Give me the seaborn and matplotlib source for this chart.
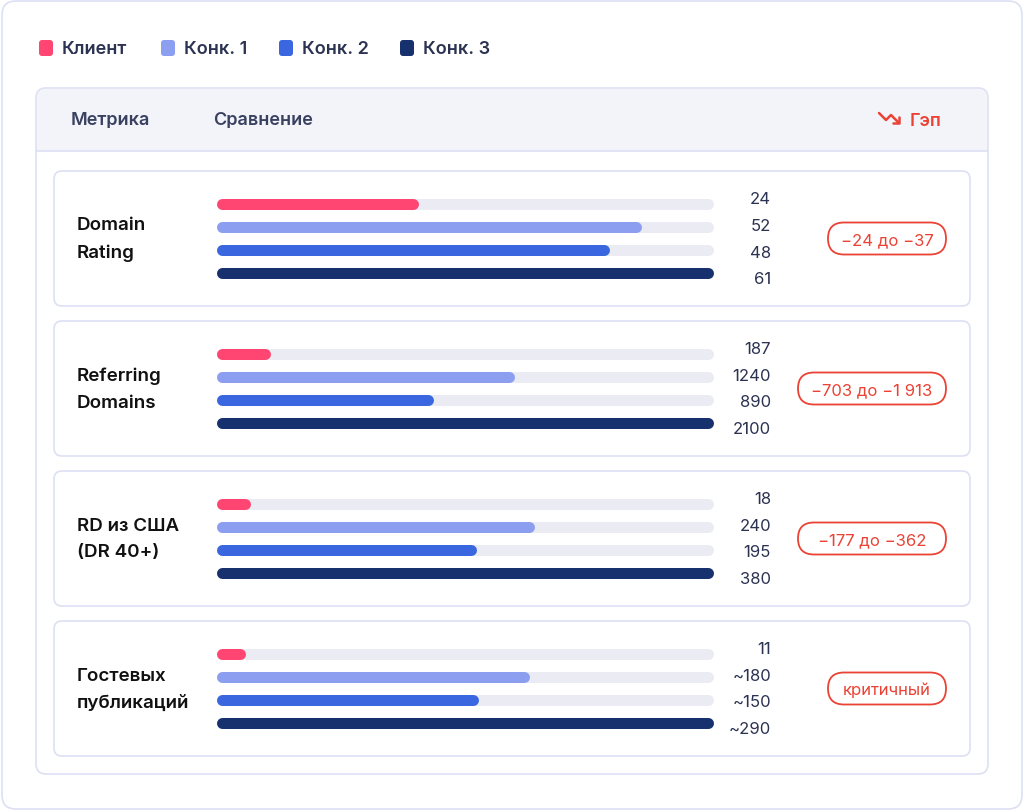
import matplotlib.pyplot as plt
import seaborn as sns
from matplotlib.patches import FancyBboxPatch

sns.set_theme(style="white")
plt.rcParams['font.family'] = ['Inter', 'DejaVu Sans']

# Data
series = ['Клиент', 'Конк. 1', 'Конк. 2', 'Конк. 3']
colors = ['#ff4673', '#8c9ef0', '#3a67e0', '#17306e']
metrics = ['Domain\nRating', 'Referring\nDomains', 'RD из США\n(DR 40+)', 'Гостевых\nпубликаций']
values = [
    [24, 52, 48, 61],
    [187, 1240, 890, 2100],
    [18, 240, 195, 380],
    [11, 180, 150, 290],
]
value_labels = [
    ['24', '52', '48', '61'],
    ['187', '1240', '890', '2100'],
    ['18', '240', '195', '380'],
    ['11', '~180', '~150', '~290'],
]
gaps = ['−24 до −37', '−703 до −1 913', '−177 до −362', 'критичный']

W, H = 1024, 812
fig = plt.figure(figsize=(W / 100, H / 100), dpi=100)
fig.patch.set_facecolor('white')
bg = fig.add_axes([0, 0, 1, 1])
bg.set_xlim(0, W)
bg.set_ylim(H, 0)
bg.axis('off')

border = '#dde0f3'
dark = '#2b3252'

def rbox(x0, y0, x1, y1, r, fc, ec, lw=1.2, z=1):
    bg.add_patch(FancyBboxPatch((x0 + r, y0 + r), x1 - x0 - 2 * r, y1 - y0 - 2 * r,
                                boxstyle=f"round,pad={r}", fc=fc, ec=ec, lw=lw, zorder=z))

# outer card
rbox(2, 2, 1022, 810, 14, 'white', border)

# legend
for name, c, xs in zip(series, colors, [36, 158, 276, 397]):
    rbox(xs + 3, 41, xs + 17, 57, 3, c, c, lw=0, z=3)
    bg.text(xs + 26, 50, name, ha='left', va='center', fontsize=13, fontweight='semibold', color=dark)

# table frame and header
rbox(36, 89, 988, 775, 10, 'white', border)
bg.add_patch(FancyBboxPatch((37, 90), 950, 62, boxstyle="round,pad=0,rounding_size=9",
                            fc='#f2f4fa', ec='none', zorder=1.5))
bg.add_patch(plt.Rectangle((37, 130), 950, 22, fc='#f2f4fa', ec='none', zorder=1.5))
bg.plot([37, 987], [152, 152], color=border, lw=1.2, zorder=2)
bg.text(71, 121, 'Метрика', ha='left', va='center', fontsize=13, fontweight='semibold', color='#3a4060')
bg.text(213, 121, 'Сравнение', ha='left', va='center', fontsize=13, fontweight='semibold', color='#3a4060')
red = '#ea4335'
bg.text(910, 121, 'Гэп', ha='left', va='center', fontsize=13, fontweight='semibold', color=red)
bg.plot([879, 886, 891, 899], [114, 121, 116, 124], color=red, lw=1.8, solid_capstyle='round',
        solid_joinstyle='round', zorder=3)
bg.plot([893, 899, 899], [124, 124, 118], color=red, lw=1.8, solid_capstyle='round', zorder=3)

# panels
panel_tops = [172, 322, 472, 622]
for i, top in enumerate(panel_tops):
    bottom = top + 135
    rbox(54, top, 970, bottom, 8, 'white', border, z=2)
    mid = (top + bottom) / 2
    bg.text(77, mid, metrics[i], ha='left', va='center', fontsize=13.5, fontweight='semibold',
            color='#111111', linespacing=1.75, zorder=3)
    # pill
    txt = gaps[i]
    pw = 118 if len(txt) < 12 else 148
    px = 946 - pw
    rbox(px, mid - 16, 946, mid + 16, 16, 'white', red, lw=1.3, z=3)
    bg.text(px + pw / 2, mid + 1, txt, ha='center', va='center', fontsize=12, color=red, zorder=4)

    # bars
    y0 = top + 22
    y1 = top + 113
    ax = fig.add_axes([222 / W, 1 - y1 / H, (708 - 222) / W, (y1 - y0) / H])
    ax.set_xlim(0, max(values[i]))
    ax.set_ylim(3.5, -0.5)
    ax.axis('off')
    lw = 11 * 72 / 100
    for j, v in enumerate(values[i]):
        ax.hlines(j, 0, max(values[i]), color='#ebebf3', lw=lw, capstyle='round', clip_on=False, zorder=1)
        ax.hlines(j, 0, v, color=colors[j], lw=lw, capstyle='round', clip_on=False, zorder=2)
        bg.text(771, y0 + 6 + j * 26.5, value_labels[i][j], ha='right', va='center',
                fontsize=12, color='#2b3252', zorder=4)

plt.savefig('out.png', dpi=100, facecolor='white')
